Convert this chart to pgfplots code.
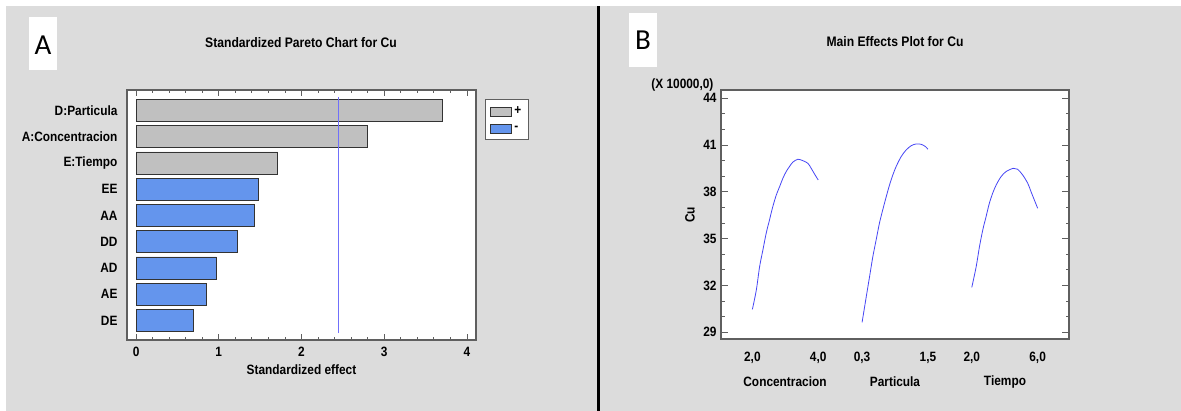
\documentclass[border=0pt]{standalone}
\usepackage{fontspec}
\setmainfont{Liberation Sans}[FakeStretch=0.88]
\newfontfamily\letterfont{Carlito}
\usepackage{pgfplots}
\pgfplotsset{compat=1.18}

\definecolor{panel}{RGB}{220,220,220}
\definecolor{bargray}{RGB}{192,192,192}
\definecolor{barblue}{RGB}{100,149,237}
\definecolor{limblue}{RGB}{112,112,250}
\definecolor{curveblue}{RGB}{70,70,245}
\definecolor{framegray}{RGB}{95,95,95}

\newcommand{\chartfont}{\fontsize{13.5}{15}\selectfont\bfseries}

\begin{document}
\begin{tikzpicture}[x=1pt,y=1pt]
\useasboundingbox (0,0) rectangle (1181,411);
\fill[white] (0,0) rectangle (1181,411);
\fill[panel] (6,0) rectangle (1181,405);
\fill[black] (597,0) rectangle (600,405);

% panel letters
\fill[white] (29,341) rectangle (57,394);
\node[font=\letterfont\fontsize{29}{30}\selectfont] at (43,366) {A};
\fill[white] (629,344) rectangle (657,398);
\node[font=\letterfont\fontsize{29}{30}\selectfont] at (643,371) {B};

% titles
\node[font=\fontsize{13.8}{15}\selectfont\bfseries] at (301,368) {Standardized Pareto Chart for Cu};
\node[font=\fontsize{13.8}{15}\selectfont\bfseries] at (895,369) {Main Effects Plot for Cu};

% Pareto chart
\begin{axis}[
    at={(127pt,71pt)}, anchor=south west,
    scale only axis, width=349pt, height=250pt,
    bar shift=0pt, bar width=22pt,
    xmin=-0.11, xmax=4.11, ymin=0.257, ymax=9.78,
    xtick={0,1,2,3,4}, minor x tick num=4,
    xtick pos=both, xticklabel pos=lower,
    ytick={1,...,9},
    yticklabels={DE,AE,AD,DD,AA,EE,E:Tiempo,A:Concentracion,D:Particula},
    y tick style={draw=none},
    tick align=inside,
    major tick length=6pt, minor tick length=3pt,
    tick style={framegray, line width=0.8pt},
    axis line style={framegray, line width=1.2pt},
    axis background/.style={fill=white},
    tick label style={font=\chartfont},
    /pgf/number format/assume math mode=true,
    xticklabel style={yshift=-4pt},
    yticklabel style={xshift=-6pt},
    xlabel={Standardized effect},
    xlabel style={at={(axis description cs:0.5,-0.12)}, anchor=center, font=\chartfont},
    legend style={at={(1.026,0.964)}, anchor=north west, draw=framegray, line width=0.8pt,
        fill=white, font=\chartfont,
        inner xsep=5pt, inner ysep=5.5pt, row sep=6pt},
    legend cell align=left,
    legend image code/.code={\draw[#1, line width=0.8pt] (0pt,-4.5pt) rectangle (21pt,4.5pt);},
]
\addplot[xbar, fill=bargray, draw=black!80, line width=0.9pt] coordinates {
    (3.70,9) (2.80,8) (1.71,7)
};
\addplot[xbar, fill=barblue, draw=black!80, line width=0.9pt] coordinates {
    (1.48,6) (1.43,5) (1.23,4) (0.97,3) (0.85,2) (0.69,1)
};
\addplot[limblue, line width=1.2pt, forget plot] coordinates {(2.45,0.52) (2.45,9.51)};
\legend{+,-}
\end{axis}

% Main effects plot
\begin{axis}[
    at={(721pt,72pt)}, anchor=south west,
    scale only axis, width=348pt, height=249pt,
    xmin=-1.43, xmax=14.43, ymin=28.57, ymax=44.53,
    ytick={29,32,...,44}, minor y tick num=2,
    ytick pos=both, yticklabel pos=left,
    xtick={0,3,5,8,10,13},
    xticklabels={{2,0},{4,0},{0,3},{1,5},{2,0},{6,0}},
    x tick style={draw=none},
    tick align=inside,
    major tick length=7pt, minor tick length=3.5pt,
    tick style={framegray, line width=0.8pt},
    axis line style={framegray, line width=1.2pt},
    axis background/.style={fill=white},
    tick label style={font=\chartfont},
    /pgf/number format/assume math mode=true,
    xticklabel style={yshift=-9.5pt},
    yticklabel style={xshift=-1pt},
    ylabel={Cu},
    ylabel style={at={(axis description cs:-0.089,0.498)}, anchor=center, font=\chartfont},
]
\addplot[curveblue, line width=0.8pt, smooth] coordinates {
    (0.00,30.47) (0.18,31.71) (0.33,33.21) (0.48,34.28) (0.63,35.35) (0.78,36.20)
    (0.93,37.05) (1.09,37.80) (1.24,38.33) (1.39,38.87) (1.54,39.30) (1.69,39.62)
    (1.84,39.90) (2.07,40.09) (2.30,40.00) (2.53,39.83) (2.68,39.51) (2.83,39.15)
    (3.00,38.76)
};
\addplot[curveblue, line width=0.8pt, smooth] coordinates {
    (5.00,29.64) (5.19,31.28) (5.34,32.56) (5.49,33.85) (5.64,34.92) (5.79,35.99)
    (5.94,36.84) (6.10,37.69) (6.25,38.44) (6.40,39.08) (6.55,39.62) (6.78,40.26)
    (7.01,40.69) (7.24,40.96) (7.46,41.07) (7.69,41.05) (7.89,40.90) (8.00,40.73)
};
\addplot[curveblue, line width=0.8pt, smooth] coordinates {
    (10.00,31.88) (10.20,33.21) (10.35,34.49) (10.50,35.56) (10.65,36.41) (10.80,37.27)
    (10.95,37.91) (11.11,38.44) (11.33,38.97) (11.56,39.30) (11.89,39.51) (12.09,39.45)
    (12.32,39.08) (12.55,38.55) (12.70,38.01) (12.85,37.48) (13.00,36.95)
};
\end{axis}

\node[font=\chartfont, anchor=east] at (717,326) {(X 10000,0)};
\node[font=\chartfont] at (785,29) {Concentracion};
\node[font=\chartfont] at (895,29) {Particula};
\node[font=\chartfont] at (1005,29) {Tiempo};
\end{tikzpicture}
\end{document}
